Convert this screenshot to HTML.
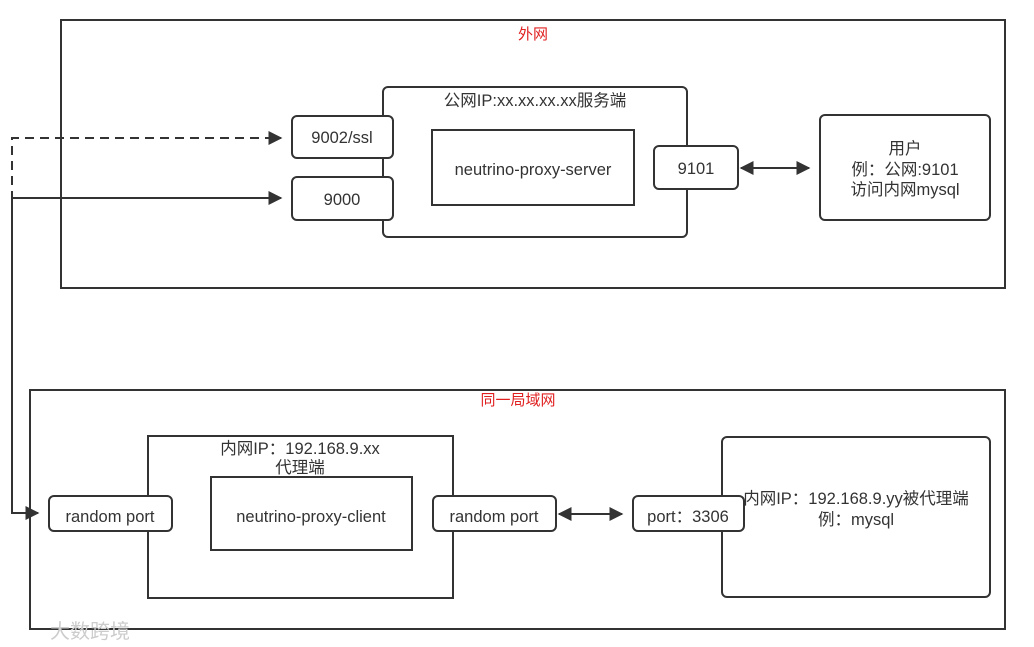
<!DOCTYPE html>
<html><head><meta charset="utf-8"><style>
html,body{margin:0;padding:0;background:#fff;width:1034px;height:647px;overflow:hidden}
svg text{font-family:"Liberation Sans","Noto Sans CJK SC",sans-serif;fill:#333;font-size:16.5px}
</style></head><body>
<svg width="1034" height="647" viewBox="0 0 1034 647" xmlns="http://www.w3.org/2000/svg">
<defs>
<marker id="a" viewBox="0 0 10 10" refX="9" refY="5" markerWidth="7" markerHeight="7" orient="auto-start-reverse"><path d="M0,0L10,5L0,10z" fill="#333"/></marker>
</defs>
<g fill="none" stroke="#333" stroke-width="2">
<rect x="61" y="20" width="944" height="268"/>
<rect x="30" y="390" width="975" height="239"/>
<rect x="383" y="87" width="304" height="150" rx="5"/>
<rect x="432" y="130" width="202" height="75"/>
<rect x="820" y="115" width="170" height="105" rx="5"/>
<rect x="148" y="436" width="305" height="162"/>
<rect x="211" y="477" width="201" height="73"/>
<rect x="722" y="437" width="268" height="160" rx="5"/>
<path d="M12,200V138H281" stroke-dasharray="9,6" marker-end="url(#a)"/>
<path d="M12,198H281" marker-end="url(#a)"/>
<path d="M12,198V513H38" marker-end="url(#a)"/>
<path d="M741,168H809" marker-start="url(#a)" marker-end="url(#a)"/>
<path d="M559,514H622" marker-start="url(#a)" marker-end="url(#a)"/>
</g>
<g fill="#fff" stroke="#333" stroke-width="2">
<rect x="292" y="116" width="101" height="42" rx="5"/>
<rect x="292" y="177" width="101" height="43" rx="5"/>
<rect x="654" y="146" width="84" height="43" rx="5"/>
<rect x="49" y="496" width="123" height="35" rx="5"/>
<rect x="433" y="496" width="123" height="35" rx="5"/>
<rect x="633" y="496" width="111" height="35" rx="5"/>
</g>
<g text-anchor="middle">
<text x="533" y="39" style="fill:#e02020;font-size:15px">外网</text>
<text x="518" y="405" style="fill:#e02020;font-size:15px">同一局域网</text>
<text x="535" y="106">公网IP:xx.xx.xx.xx服务端</text>
<text x="533" y="175">neutrino-proxy-server</text>
<text x="342" y="143">9002/ssl</text>
<text x="342" y="205">9000</text>
<text x="696" y="174">9101</text>
<text x="905" y="154">用户</text>
<text x="905" y="175">例：公网:9101</text>
<text x="905" y="195">访问内网mysql</text>
<text x="300" y="454">内网IP：192.168.9.xx</text>
<text x="300" y="473">代理端</text>
<text x="311" y="522">neutrino-proxy-client</text>
<text x="110" y="522">random port</text>
<text x="494" y="522">random port</text>
<text x="688" y="522">port：3306</text>
<text x="856" y="504">内网IP：192.168.9.yy被代理端</text>
<text x="856" y="525">例：mysql</text>
</g>
<text x="50" y="638" style="fill:#ccc;font-size:20px">大数跨境</text>
</svg>
</body></html>
